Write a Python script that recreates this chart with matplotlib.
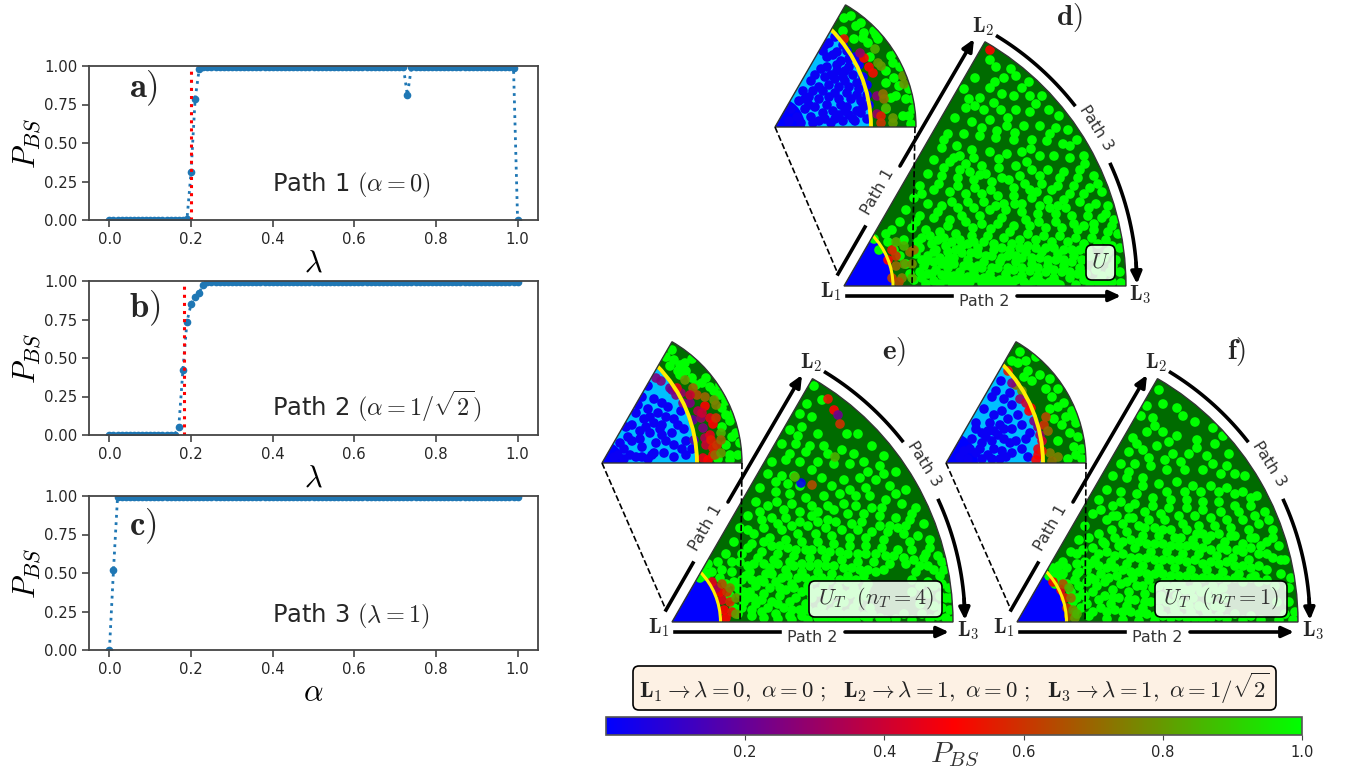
import matplotlib
matplotlib.use('Agg')
import matplotlib.pyplot as plt
import numpy as np
from matplotlib.colors import LinearSegmentedColormap, Normalize
from matplotlib.cm import ScalarMappable
from matplotlib.patches import Wedge, Circle, FancyBboxPatch

plt.rcParams['mathtext.fontset'] = 'cm'
plt.rcParams['text.color'] = '#262626'

# Left panels: P_BS on a 0.01 grid
grid = [0.00, 0.01, 0.02, 0.03, 0.04, 0.05, 0.06, 0.07, 0.08, 0.09,
        0.10, 0.11, 0.12, 0.13, 0.14, 0.15, 0.16, 0.17, 0.18, 0.19,
        0.20, 0.21, 0.22, 0.23, 0.24, 0.25, 0.26, 0.27, 0.28, 0.29,
        0.30, 0.31, 0.32, 0.33, 0.34, 0.35, 0.36, 0.37, 0.38, 0.39,
        0.40, 0.41, 0.42, 0.43, 0.44, 0.45, 0.46, 0.47, 0.48, 0.49,
        0.50, 0.51, 0.52, 0.53, 0.54, 0.55, 0.56, 0.57, 0.58, 0.59,
        0.60, 0.61, 0.62, 0.63, 0.64, 0.65, 0.66, 0.67, 0.68, 0.69,
        0.70, 0.71, 0.72, 0.73, 0.74, 0.75, 0.76, 0.77, 0.78, 0.79,
        0.80, 0.81, 0.82, 0.83, 0.84, 0.85, 0.86, 0.87, 0.88, 0.89,
        0.90, 0.91, 0.92, 0.93, 0.94, 0.95, 0.96, 0.97, 0.98, 0.99, 1.00]
path1 = [0, 0, 0, 0, 0, 0, 0, 0, 0, 0, 0, 0, 0, 0, 0, 0, 0, 0, 0, 0.005,
         0.31, 0.785, 0.98, .995, .995, .995, .995, .995, .995, .995,
         .995, .995, .995, .995, .995, .995, .995, .995, .995, .995,
         .995, .995, .995, .995, .995, .995, .995, .995, .995, .995,
         .995, .995, .995, .995, .995, .995, .995, .995, .995, .995,
         .995, .995, .995, .995, .995, .995, .995, .995, .995, .995,
         .995, .995, .995, 0.81, .995, .995, .995, .995, .995, .995,
         .995, .995, .995, .995, .995, .995, .995, .995, .995, .995,
         .995, .995, .995, .995, .995, .995, .995, .995, .995, .99, 0.0]
path2 = [0, 0, 0, 0, 0, 0, 0, 0, 0, 0, 0, 0, 0, 0, 0, 0, 0, 0.055, 0.42, 0.735,
         0.85, 0.895, 0.925, 0.975, .995, .995, .995, .995, .995, .995,
         .995, .995, .995, .995, .995, .995, .995, .995, .995, .995,
         .995, .995, .995, .995, .995, .995, .995, .995, .995, .995,
         .995, .995, .995, .995, .995, .995, .995, .995, .995, .995,
         .995, .995, .995, .995, .995, .995, .995, .995, .995, .995,
         .995, .995, .995, .995, .995, .995, .995, .995, .995, .995,
         .995, .995, .995, .995, .995, .995, .995, .995, .995, .995,
         .995, .995, .995, .995, .995, .995, .995, .995, .995, .995, .995]
path3 = [0.0, 0.52, .995, .995, .995, .995, .995, .995, .995, .995,
         .995, .995, .995, .995, .995, .995, .995, .995, .995, .995,
         .995, .995, .995, .995, .995, .995, .995, .995, .995, .995,
         .995, .995, .995, .995, .995, .995, .995, .995, .995, .995,
         .995, .995, .995, .995, .995, .995, .995, .995, .995, .995,
         .995, .995, .995, .995, .995, .995, .995, .995, .995, .995,
         .995, .995, .995, .995, .995, .995, .995, .995, .995, .995,
         .995, .995, .995, .995, .995, .995, .995, .995, .995, .995,
         .995, .995, .995, .995, .995, .995, .995, .995, .995, .995,
         .995, .995, .995, .995, .995, .995, .995, .995, .995, .995, .995]
crit_a = 0.2
crit_b = 0.182

# Fan panels: sample positions (pixels from the apex, y up)
d_green = [(146,226),(152,219),(167,217),(131,208),(160,208),(172,210),(185,204),(146,198),(158,192),(120,197),(136,188),(170,190),(186,190),(198,190),
(122,178),(140,176),(157,176),(172,176),(186,174),(205,176),(215,170),(111,168),(128,164),(146,166),(163,160),(180,160),(196,160),(212,158),(224,156),
(104,152),(120,152),(136,150),(152,148),(170,146),(188,146),(203,145),(219,142),(233,146),(98,138),(113,140),(128,136),(146,134),(163,132),(178,134),(196,130),(210,130),(226,128),(240,130),
(90,126),(106,124),(122,122),(138,120),(155,118),(172,120),(188,116),(204,116),(220,114),(236,116),(250,110),(84,112),(98,110),(114,108),(130,106),(148,104),(165,106),(181,102),(198,102),(214,100),(230,100),(246,98),(258,94),
(76,100),(90,96),(106,94),(122,92),(138,92),(154,90),(170,90),(188,88),(204,86),(220,86),(236,84),(252,82),(264,80),(70,88),(84,82),(98,80),(114,78),(130,78),(146,76),(162,76),(178,74),(194,72),(212,72),(228,70),(244,70),(258,68),(270,66),
(62,76),(76,70),(90,68),(106,66),(122,64),(138,62),(154,62),(170,60),(186,60),(202,58),(218,58),(234,56),(250,56),(264,54),(274,52),
(56,64),(68,58),(82,56),(96,54),(112,52),(128,50),(144,50),(160,48),(176,46),(192,46),(208,44),(224,44),(240,42),(254,42),(268,40),(276,38),
(48,56),(60,46),(74,44),(88,42),(102,40),(118,40),(134,38),(150,36),(166,36),(182,34),(198,34),(214,32),(230,30),(246,30),(260,28),(272,26),
(44,44),(72,32),(84,30),(96,28),(110,28),(124,26),(140,24),(156,24),(172,24),(188,22),(204,20),(220,20),(236,18),(252,16),(266,14),(276,14),
(80,20),(92,16),(104,18),(116,14),(130,14),(146,12),(162,12),(178,10),(194,10),(210,8),(226,8),(240,6),(254,4),(268,4),(277,3),
(78,8),(90,5),(102,6),(114,3),(126,4),(138,3),(152,2),(168,2),(184,1),(200,2),(216,1),(232,1),
(100,146),(110,128),(116,116),(130,128),(142,112),(158,108),(176,110),(193,94),(208,96),(226,92),(240,92),(95,102),(108,84),(124,84),(140,84),(160,82),(178,82),(196,80),(214,80),(240,60),
(86,50),(100,48),(116,46),(130,44),(150,42),(168,42),(184,40),(202,38),(220,36),(236,36),(90,34),(104,34),(118,33),(134,32),(148,30),(164,30),(178,28),(196,28),(212,26),(228,24),
(82,24),(98,22),(110,22),(126,20),(138,18),(154,18),(170,16),(186,15),(202,14),(218,14),(234,12),(84,12),(98,11),(110,10),(124,9),(140,8),(156,6),(172,6),(190,5),(206,4),
(30,47),(35,36),(42,52),(50,36),(56,30),(62,22),(66,12),(70,6),
(151,204),(125,187),(131,180),(150,183),(178,198),(192,182),(164,168),(138,158),(116,130),(126,114),(153,155),(171,153),(187,137),(206,152),(226,140),(241,122),(155,127),(136,111),(147,96),(170,98),(183,124),(196,110),(216,108),(234,108),(254,102),
(78,92),(100,118),(114,100),(131,98),(152,80),(171,82),(186,96),(206,78),(222,78),(245,78),(262,72),(94,74),(118,70),(136,70),(158,68),(182,66),(195,64),(212,64),(230,62),(250,62),(268,60),
(72,64),(104,60),(129,58),(147,57),(166,54),(184,52),(200,50),(216,50),(232,48),(248,48),(262,46),(78,48),(94,46),(108,44),(124,42),(140,44),(158,38),(176,38),(192,38),(210,38),(228,36),(244,36),(264,34),
(76,38),(92,36),(112,36),(127,33),(142,30),(158,28),(172,30),(188,28),(204,26),(220,26),(238,26),(254,24),(269,20),(78,26),(90,24),(104,26),(120,20),(134,20),(148,18),(164,18),(178,18),(194,18),(210,16),(226,14),(242,12),(258,10),
(76,14),(88,12),(104,11),(118,8),(132,8),(148,6),(164,6),(180,4),(196,4),(212,3),(246,2),(260,2),(82,2),(96,2),(108,3),(120,4),(144,2),(160,1)]
d_mix = [(146,236,.5),(58,8,.75),(60,22,.8),(66,34,.72),(68,22,.78),(70,36,.7),(52,20,.7),(48,36,.55),(52,30,.6),(55,4,.65),(48,8,.62),(60,40,.85),(68,8,.85),(44,26,.5),(52,44,.85)]
d_in_green = [(76,111),(69,109),(86,104),(81,101),(89,94),(88,89),(93,84),(103,88),(101,92),(79,88),(116,71),(118,64),(111,56),(119,49),(124,41),(134,38),(111,44),(116,29),(121,31),(131,28),(138,18),(111,18),(128,11),(134,11),(136,3),(68,96),(99,96),(125,60),(122,75),(138,28),(95,70)]
d_in_mix = [(89,69,.5),(94,60,.5),(98,54,.52),(69,88,.55),(102,31,.27),(108,33,.72),(109,28,.72),(102,13,.3),(106,11,.56),(106,4,.6),(118,9,.8),(118,4,.8),(111,19,.85),(128,51,.8),(129,43,.8),(103,64,.8),(106,61,.8),(100,78,.85),(85,74,.3)]
d_in_blue = [(60,90),(68,82),(62,75),(72,76),(80,70),(84,62),(74,60),(62,62),(52,70),(46,58),(56,52),(68,50),(78,52),(88,50),(92,42),(84,38),(74,40),(64,40),(54,42),(44,40),(36,46),(34,30),(44,28),(54,30),(64,28),(76,28),(86,26),(94,22),(82,16),(70,16),(58,16),(48,14),(92,8),(80,6),(68,6),(56,4),(44,6),(30,18),(22,10),(36,10),(66,66),(50,82),(92,32),(60,34),(28,36),(72,20),(60,8),
(54,84),(58,72),(48,76),(74,68),(70,56),(60,48),(50,50),(40,52),(52,60),(82,44),(72,34),(66,22),(52,22),(40,20),(78,8),(86,14),(74,12),(64,12),(50,8),(38,4),(82,32),(48,36),(38,36),(30,28),(24,26),(34,22),(16,18),(26,4),(14,6),(88,20),(62,56),(70,46)]
e_green = [(142,236),(135,218),(150,222),(128,208),(140,205),(130,195),(118,192),(146,188),(175,188),(186,188),(110,178),(124,178),(138,176),(152,176),(170,172),(200,176),(212,166),(100,160),(114,162),(128,160),(146,160),(162,158),(178,158),(192,160),(208,156),(224,150),
(96,148),(110,146),(122,146),(150,144),(172,142),(188,144),(204,142),(218,136),(234,132),(88,134),(104,130),(118,128),(134,124),(152,126),(168,128),(184,126),(198,126),(214,122),(230,118),(244,114),
(84,120),(96,116),(112,112),(128,110),(146,110),(162,112),(176,108),(192,108),(208,106),(224,104),(238,102),(252,98),(76,106),(90,102),(106,98),(120,96),(136,96),(154,94),(170,92),(186,92),(200,90),(216,90),(232,88),(246,86),(258,82),
(68,94),(82,88),(98,84),(114,82),(130,80),(146,80),(162,78),(178,76),(194,76),(210,74),(226,72),(240,72),(254,68),(266,66),(62,80),(76,74),(90,70),(106,68),(122,66),(138,64),(154,64),(170,62),(186,60),(202,60),(218,58),(234,58),(248,56),(262,52),(272,52),
(54,68),(68,60),(82,58),(98,54),(114,52),(130,50),(146,50),(160,48),(176,46),(192,46),(240,42),(256,40),(270,38),(277,34),
(46,60),(60,50),(74,46),(88,42),(104,40),(120,38),(136,36),(152,36),(166,34),(182,34),(256,28),(268,26),(278,24),
(40,50),(54,38),(66,34),(78,30),(92,28),(108,26),(124,24),(140,24),(156,22),(172,20),(186,20),(270,14),(278,12),(262,16),
(72,20),(84,18),(96,14),(112,14),(128,12),(144,10),(160,10),(176,8),(192,6),(208,4),(224,3),(240,2),(258,3),(274,4),(280,1),
(66,8),(80,6),(92,4),(106,3),(120,2),(136,2),(152,1),(168,1),(184,1),
(105,120),(120,118),(140,116),(156,102),(172,118),(190,100),(208,96),(226,94),(92,94),(110,92),(126,88),(144,88),(160,86),(178,84),(194,84),(212,82),(100,76),(116,74),(134,72),(150,72),(168,70),(186,68),(204,68),(222,66),(252,64),
(76,56),(92,58),(106,58),(122,56),(138,56),(154,56),(172,54),(188,52),(204,50),(100,48),(116,46),(134,44),(150,44),(168,42),(184,42),(196,38),(240,30),(248,18),(70,42),(84,36),(98,34),(114,32),(130,30),(146,30),(162,28),(178,28),(194,26),(82,24),(100,20),(118,20),(134,18),(150,16),(166,16),(182,14),(198,14),(214,2),
(28,44),(36,58),(34,46),(50,52),(62,40),(48,44),(68,28),(58,26),(62,14),(72,30),(32,50),
(126,186),(134,170),(118,168),(156,168),(182,168),(196,150),(212,148),(140,152),(104,140),(116,138),(128,136),(160,136),(178,132),(194,134),(210,114),(224,128),(240,108),(140,106),(156,116),(184,116),(200,114),(218,96),(234,96),
(76,92),(88,110),(100,104),(114,104),(128,100),(146,100),(164,100),(180,98),(238,80),(258,74),(270,60),(80,78),(92,80),(108,76),(124,72),(140,72),(158,70),(176,68),(194,68),(214,66),(232,64),(242,62),(256,56),
(70,68),(86,64),(102,62),(118,60),(130,58),(146,58),(162,56),(180,54),(196,52),(212,52),(244,50),(268,46),(60,60),(78,50),(94,48),(110,44),(126,44),(142,42),(158,42),(176,40),(194,34),(80,42),(92,40),(108,34),(122,34),(138,30),(154,28),(170,28),(186,28),(248,36),(262,36),(274,24),
(70,14),(80,12),(90,22),(106,18),(120,12),(136,12),(152,8),(168,8),(184,8),(200,8),(76,24),(90,10),(104,8),(118,6),(130,6),(146,4),(160,4),(176,3),(196,2),(232,8),(250,8),(266,6)]
e_mix = [(156,223,.55),(162,212,.5),(166,207,.22),(168,198,.6),(163,165,.85),(129,139,.02),(123,145,.85),(140,137,.65),(50,22,.45),(52,12,.5),(54,4,.5),(48,30,.5),(55,30,.6),(58,20,.58),(60,10,.55),(44,34,.35),(58,34,.75),(64,24,.8),(64,8,.8),(50,38,.65),(40,40,.45)]
e_in_green = [(70,113),(64,106),(72,103),(78,98),(68,97),(76,92),(83,100),(90,104),(84,92),(90,85),(100,80),(108,76),(94,78),(118,68),(112,72),(124,62),(120,55),(132,50),(128,42),(124,48),(134,30),(138,20),(130,26),(124,18),(128,8),(136,8),(128,3),(116,4),(120,36),(78,88),(104,85),(118,78)]
e_in_mix = [(54,85,.25),(59,82,.25),(68,75,.22),(70,73,.22),(74,68,.25),(79,70,.3),(81,60,.25),(88,60,.25),(91,43,.2),(99,45,.3),(101,35,.25),(92,23,.15),(103,25,.35),(104,18,.4),(101,5,.45),
(75,75,.45),(103,57,.5),(108,45,.45),(111,39,.5),(108,28,.45),(109,23,.55),(111,15,.55),(111,8,.55),(106,3,.5),(115,18,.6),(83,83,.8),(91,75,.7),(95,68,.65),(103,66,.7),(112,63,.8),(114,58,.75),(114,45,.6),(119,30,.85),(119,23,.7),(113,8,.7),(119,10,.8),(96,52,.35),(100,50,.4),(88,68,.4)]
e_in_blue = [(46,77),(40,66),(52,64),(60,60),(46,54),(56,50),(66,56),(64,46),(52,40),(42,44),(34,50),(30,38),(38,32),(48,30),(58,34),(72,44),(79,52),(76,38),(70,30),(82,34),(54,20),(64,22),(72,18),(84,22),(62,10),(50,8),(40,16),(26,26),(22,14),(34,6),(46,4),(72,6),(84,8),(90,14),(80,14),(60,28),(30,22),(16,8),(28,8),(52,10),
(36,58),(48,46),(60,38),(38,24),(44,36),(24,36),(18,20),(12,6),(40,6),(22,4)]
f_green = [(142,232),(130,216),(146,218),(160,214),(124,206),(136,204),(166,206),(178,200),(130,190),(146,190),(196,194),(116,184),(160,186),(180,182),(206,186),(112,170),(126,172),(140,176),(156,168),(172,168),(190,166),(212,168),(104,158),(118,158),(134,156),(150,152),(168,152),(186,152),(204,148),(218,148),(228,146),
(96,146),(110,144),(126,144),(142,138),(160,140),(176,136),(194,136),(210,134),(226,130),(240,126),(90,132),(104,130),(120,128),(136,124),(154,122),(170,122),(186,120),(202,120),(218,116),(234,116),(248,110),
(82,122),(96,116),(112,114),(128,110),(144,108),(162,106),(178,106),(194,104),(210,102),(226,102),(242,98),(256,92),(76,108),(90,102),(106,98),(122,96),(138,94),(154,92),(170,92),(186,88),(202,88),(218,86),(234,84),(250,80),(262,76),
(68,96),(82,88),(98,84),(114,82),(130,78),(146,78),(162,76),(178,76),(194,72),(210,72),(226,70),(242,68),(256,64),(268,62),(62,82),(76,74),(90,70),(106,68),(122,64),(138,62),(154,62),(170,60),(186,58),(202,58),(218,56),(234,54),(250,52),(264,48),(274,44),
(54,70),(68,60),(82,56),(98,54),(114,50),(130,48),(146,48),(162,46),(178,44),(194,44),(210,42),(226,40),(242,40),(258,36),(272,34),
(46,60),(60,48),(74,44),(88,40),(104,38),(120,36),(136,34),(152,34),(168,32),(184,30),(200,30),(260,20),(272,20),(278,10),
(40,48),(62,36),(76,30),(88,26),(102,24),(118,22),(134,20),(150,20),(166,18),(182,16),(198,16),(268,8),
(60,24),(70,18),(84,14),(98,12),(114,10),(130,8),(146,6),(162,6),(178,4),(194,4),(210,3),(226,2),(244,2),(262,2),(276,2),
(58,10),(72,6),(90,3),(106,2),(122,1),(138,1),
(100,106),(116,104),(132,102),(148,102),(166,98),(182,96),(198,96),(214,94),(232,92),(95,92),(110,90),(126,86),(142,86),(158,84),(176,82),(190,82),(208,80),(226,78),(244,76),
(88,78),(102,76),(118,74),(134,70),(150,70),(166,68),(182,68),(200,66),(216,64),(232,62),(78,62),(94,60),(110,58),(126,56),(142,54),(158,54),(174,52),(190,52),(206,50),(222,48),(238,46),
(70,52),(84,48),(100,46),(116,44),(132,42),(148,40),(164,38),(180,36),(196,36),(80,36),(96,32),(112,30),(128,28),(144,26),(160,26),(176,24),(192,24),(208,24),(94,18),(110,16),(126,14),(142,13),(158,12),(174,10),(190,10),
(32,46),(38,38),(46,48),(50,38),(54,30),(42,56),(58,42),(50,54),(64,14),(66,28),(70,40),(60,58),(56,20),(36,54),(44,42),
(138,196),(152,180),(120,178),(132,164),(148,162),(164,160),(180,174),(198,178),(196,158),(210,156),(112,150),(126,136),(150,130),(168,130),(184,130),(202,130),(218,128),(234,124),
(104,120),(118,118),(136,116),(152,114),(170,114),(186,112),(204,110),(222,110),(238,106),(252,102),(84,112),(96,106),(112,104),(128,94),(146,92),(164,84),(180,88),(194,86),(214,86),(238,84),(256,84),
(72,84),(86,80),(106,80),(122,80),(138,78),(154,76),(170,76),(186,74),(204,74),(220,72),(234,74),(250,68),(264,62),(66,72),(82,68),(98,66),(114,64),(130,64),(146,62),(162,62),(178,62),(194,60),(210,60),(226,56),(242,56),
(60,68),(74,58),(90,54),(106,52),(122,50),(138,48),(154,46),(170,46),(186,44),(202,44),(218,44),(234,44),(250,42),(62,50),(78,42),(92,44),(110,40),(126,36),(142,36),(158,36),(174,32),(190,32),(206,34),
(68,26),(82,22),(96,24),(112,22),(128,20),(142,22),(156,18),(172,16),(188,14),(204,14),(76,10),(90,10),(106,10),(122,8),(138,6),(154,4),(170,4),(186,2),(202,6),(218,8),(234,6)]
f_mix = [(50,14,.6),(52,6,.65),(48,24,.55),(54,24,.72),(56,12,.78),(58,4,.8),(44,32,.45),(46,38,.65),(36,40,.5),(60,8,.85),(52,34,.85)]
f_in_green = [(74,111),(66,102),(72,100),(80,102),(90,106),(82,92),(78,86),(86,82),(94,88),(104,84),(112,74),(106,66),(118,60),(126,52),(112,56),(120,46),(130,40),(104,54),(116,38),(124,30),(132,26),(112,22),(128,16),(136,14),(130,8),(122,4),(136,4),(100,74),(108,44),(128,46)]
f_in_mix = [(62,92,.55),(70,78,.72),(76,72,.78),(74,64,.3),(80,60,.4),(85,55,.5),(83,52,.48),(88,42,.25),(92,36,.25),(94,28,.3),(96,22,.42),(92,14,.45),(92,8,.48),(90,3,.5),(98,38,.6),(100,46,.65),(102,32,.7),(104,10,.75),(112,6,.75),(106,2,.72),(66,80,.25),(96,12,.55)]
f_in_blue = [(55,82),(50,72),(46,66),(58,64),(64,70),(66,58),(56,52),(48,48),(44,40),(54,38),(62,44),(72,48),(76,38),(66,34),(58,24),(70,22),(80,24),(84,30),(76,14),(66,10),(56,12),(46,22),(36,30),(30,40),(38,54),(26,24),(42,8),(30,10),(54,4),(82,6),(36,20),(18,12),(22,4),(48,32),(64,20),
(42,32),(34,14),(24,14),(14,6),(48,14),(40,26),(30,34),(52,28),(58,34),(46,4),(36,4),(60,6)]

box_text = r'$\mathbf{L}_1\rightarrow\lambda=0,\ \alpha=0\ ;\ \ \mathbf{L}_2\rightarrow\lambda=1,\ \alpha=0\ ;\ \ \mathbf{L}_3\rightarrow\lambda=1,\ \alpha=1/\sqrt{2}$'

W, H = 1357, 777
cmap = LinearSegmentedColormap.from_list('pbs', ['#0000ff', '#ff0000', '#00ff00'])
norm = Normalize(0, 1)
dark_green = '#006b00'
cyan = '#00bfff'
edge = '#333333'


def px_axes(left, top, right, bottom, **kw):
    return fig.add_axes([left / W, 1 - bottom / H, (right - left) / W, (bottom - top) / H], **kw)


fig = plt.figure(figsize=(W / 100, H / 100), dpi=100)

# left column
panels = [
    (66, 220, path1, crit_a, r'$\lambda$', r'$\mathbf{a})$', r'Path 1 $(\alpha=0)$', 0.857, 0.225),
    (281, 435, path2, crit_b, r'$\lambda$', r'$\mathbf{b})$', r'Path 2 $(\alpha=1/\sqrt{2})$', 0.825, 0.185),
    (496, 650, path3, None, r'$\alpha$', r'$\mathbf{c})$', r'Path 3 $(\lambda=1)$', 0.80, 0.22),
]
for top, bottom, vals, crit, xlab, tag, title, tag_y, title_y in panels:
    ax = px_axes(89, top, 538, bottom)
    ax.plot(grid, vals, 'o:', color='#1f77b4', ms=4.5, lw=2)
    if crit is not None:
        ax.plot([crit, crit], [0, 0.98], ':', color='red', lw=2.2)
    ax.set_xlim(-0.05, 1.05)
    ax.set_ylim(0, 1)
    ax.set_yticks([0, 0.25, 0.5, 0.75, 1])
    ax.set_yticklabels(['0.00', '0.25', '0.50', '0.75', '1.00'])
    ax.tick_params(labelsize=10.7, length=5, width=1.2, color='#444444', labelcolor='#262626')
    for s in ax.spines.values():
        s.set_color('#444444')
        s.set_linewidth(1.3)
    ax.set_xlabel(xlab, fontsize=22, labelpad=1)
    ax.set_ylabel(r'$P_{BS}$', fontsize=22, labelpad=1)
    ax.text(0.09, tag_y, tag, fontsize=25, ha='left', va='center', transform=ax.transAxes)
    ax.text(0.408, title_y, title, fontsize=17.5, ha='left', va='center', transform=ax.transAxes)


def draw_fan(apex, r, greens, mixes, blues, inner, yellow_c, yellow_r, dense_r, dot_s, yellow_lw):
    ax = px_axes(apex[0] - 1, apex[1] - r * 0.88, apex[0] + r + 1, apex[1] + 1)
    ax.set_xlim(-1, r + 1)
    ax.set_ylim(-1, r * 0.88)
    ax.axis('off')
    wedge = Wedge((0, 0), r, 0, 60, fc=dark_green, ec='none')
    ax.add_patch(wedge)
    c = Circle((yellow_c, 0), yellow_r, fc=inner, ec='none', zorder=2)
    ax.add_patch(c)
    c.set_clip_path(wedge)
    if dense_r:
        c2 = Circle((0, 0), dense_r, fc='#0000ff', ec='none', zorder=2.1)
        ax.add_patch(c2)
        c2.set_clip_path(wedge)
    if blues:
        bx, by = zip(*blues)
        sc = ax.scatter(bx, by, s=dot_s, c=[0.02] * len(bx), cmap=cmap, norm=norm, lw=0, zorder=3)
        sc.set_clip_path(wedge)
    gx, gy = zip(*greens)
    sc = ax.scatter(gx, gy, s=dot_s, c=[1.0] * len(gx), cmap=cmap, norm=norm, lw=0, zorder=3)
    sc.set_clip_path(wedge)
    mx, my, mp = zip(*mixes)
    sc = ax.scatter(mx, my, s=dot_s, c=mp, cmap=cmap, norm=norm, lw=0, alpha=0.9, zorder=4)
    sc.set_clip_path(wedge)
    y = Circle((yellow_c, 0), yellow_r, fc='none', ec='#ffee00', lw=yellow_lw, zorder=5)
    ax.add_patch(y)
    y.set_clip_path(wedge)
    ax.add_patch(Wedge((0, 0), r, 0, 60, fc='none', ec=edge, lw=1.0, zorder=6))


draw_fan((844, 286), 282, d_green, d_mix, None, '#0000ff', -23.5, 72.5, None, 48, 2.2)
draw_fan((672, 622), 281, e_green, e_mix, None, '#0000ff', -23.5, 72, None, 48, 2.2)
draw_fan((1017, 622), 281, f_green, f_mix, None, '#0000ff', -23.5, 73, None, 48, 2.2)
draw_fan((775, 127), 141, d_in_green, d_in_mix, d_in_blue, cyan, -43, 139, 30, 48, 2.8)
draw_fan((602, 463), 140, e_in_green, e_in_mix, e_in_blue, cyan, -43, 138, 22, 48, 2.8)
draw_fan((946, 463), 140, f_in_green, f_in_mix, f_in_blue, cyan, -43, 140, 32, 48, 2.8)

# overlay in pixel coordinates for arrows and labels
ov = fig.add_axes([0, 0, 1, 1], zorder=10)
ov.set_xlim(0, W)
ov.set_ylim(H, 0)
ov.axis('off')


def arrow(p0, p1, lw=2.6):
    ov.annotate('', xy=p1, xytext=p0,
                arrowprops=dict(arrowstyle='-|>,head_width=0.32,head_length=0.7', color='black',
                                lw=lw, shrinkA=0, shrinkB=0))


def decorate(apex, inset_apex, tag, tag_pos):
    ax_, ay_ = apex
    # path 1
    ov.plot([ax_ - 6, ax_ + 21], [ay_ - 12, ay_ - 59], color='black', lw=2.6)
    arrow((ax_ + 56, ay_ - 120), (ax_ + 130, ay_ - 247))
    ov.text(ax_ + 34, ay_ - 94, 'Path 1', rotation=60, fontsize=11.5, color='#333333', ha='center', va='center')
    # path 2
    ov.plot([ax_ + 3, ax_ + 108], [ay_ + 10, ay_ + 10], color='black', lw=2.6)
    arrow((ax_ + 173, ay_ + 10), (ax_ + 277, ay_ + 10))
    ov.text(ax_ + 140, ay_ + 15, 'Path 2', fontsize=11.5, color='#333333', ha='center', va='center')
    # path 3
    t1 = np.radians(np.linspace(58.4, 38.2, 20))
    ov.plot(ax_ + 293 * np.cos(t1), ay_ - 293 * np.sin(t1), color='black', lw=2.6)
    t2 = np.radians(np.linspace(24.5, 2.2, 20))
    ov.plot(ax_ + 293 * np.cos(t2), ay_ - 293 * np.sin(t2), color='black', lw=2.6)
    arrow((ax_ + 293 * np.cos(t2[-3]), ay_ - 293 * np.sin(t2[-3])), (ax_ + 293, ay_ - 2))
    ov.text(ax_ + 252, ay_ - 158, 'Path 3', rotation=-58, fontsize=11.5, color='#333333', ha='center', va='center')
    # corner labels
    ov.text(ax_ - 13, ay_ + 6, r'$\mathbf{L}_1$', fontsize=15, ha='center', va='center')
    ov.text(ax_ + 139, ay_ - 259, r'$\mathbf{L}_2$', fontsize=15, ha='center', va='center')
    ov.text(ax_ + 296, ay_ + 9, r'$\mathbf{L}_3$', fontsize=15, ha='center', va='center')
    # zoom guides
    ix, iy = inset_apex
    ov.plot([ix, ax_ - 6], [iy, ay_ - 12], '--', color='black', lw=1.2)
    ov.plot([ix + 140, ax_ + 68], [iy, ay_], '--', color='black', lw=1.2)
    ov.text(tag_pos[0], tag_pos[1], tag, fontsize=21, ha='center', va='center')


decorate((844, 286), (775, 127), r'$\mathbf{d})$', (1069, 17))
decorate((672, 622), (602, 463), r'$\mathbf{e})$', (894, 352))
decorate((1017, 622), (946, 463), r'$\mathbf{f})$', (1237, 352))

# labels inside the fans
for (l, t, r, b), lab in [((1086, 245, 1115, 280), r'$U$'),
                          ((809, 581, 942, 617), r'$U_T\ \ (n_T=4)$'),
                          ((1155, 581, 1287, 617), r'$U_T\ \ (n_T=1)$')]:
    ov.add_patch(FancyBboxPatch((l + 4, t + 4), r - l - 8, b - t - 8, boxstyle='round,pad=4,rounding_size=6',
                                fc='white', ec='none', alpha=0.85))
    ov.add_patch(FancyBboxPatch((l + 4, t + 4), r - l - 8, b - t - 8, boxstyle='round,pad=4,rounding_size=6',
                                fc='none', ec='black', lw=1.2))
    ov.text((l + r) / 2, (t + b) / 2 - 1, lab, fontsize=16, color='#333333', ha='center', va='center')

# legend box
ov.add_patch(FancyBboxPatch((637, 670), 635, 36, boxstyle='round,pad=4,rounding_size=6',
                            fc='#fdf1e4', ec='black', lw=1.2))
ov.text(954, 688, box_text, fontsize=16.4, color='#222222', ha='center', va='center')

# colorbar
cax = px_axes(606, 717, 1302, 735)
cb = fig.colorbar(ScalarMappable(norm=norm, cmap=cmap), cax=cax, orientation='horizontal')
cb.set_ticks([0.2, 0.4, 0.6, 0.8, 1.0])
cb.ax.tick_params(labelsize=10.5, length=3.5, color='#444444', labelcolor='#262626')
cb.outline.set_edgecolor('#555555')
cb.outline.set_linewidth(1.2)
ov.text(955, 755, r'$P_{BS}$', fontsize=21, color='#333333', ha='center', va='center')

fig.savefig('out.png', dpi=100)
